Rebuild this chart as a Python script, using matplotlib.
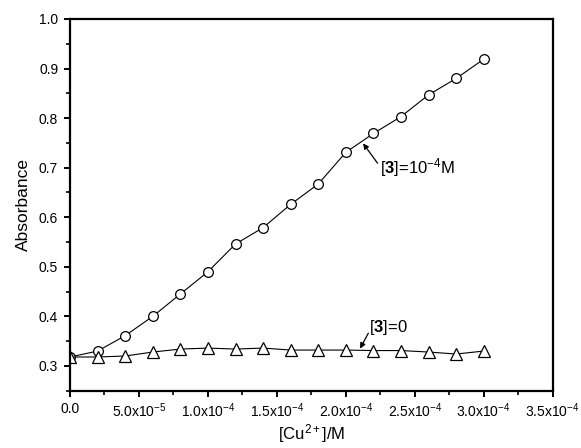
import matplotlib
matplotlib.use('Agg')
import matplotlib.pyplot as plt
from matplotlib.ticker import MultipleLocator, FixedLocator

plt.rcParams['font.family'] = ['Liberation Sans', 'DejaVu Sans']
plt.rcParams['mathtext.fontset'] = 'custom'
plt.rcParams['mathtext.rm'] = 'Liberation Sans'
plt.rcParams['mathtext.it'] = 'Liberation Sans:italic'
plt.rcParams['mathtext.bf'] = 'Liberation Sans:bold'

# data
cu_conc = [0.0, 2e-5, 4e-5, 6e-5, 8e-5, 1.0e-4, 1.2e-4, 1.4e-4, 1.6e-4,
           1.8e-4, 2.0e-4, 2.2e-4, 2.4e-4, 2.6e-4, 2.8e-4, 3.0e-4]
abs_with3 = [0.318, 0.330, 0.361, 0.400, 0.445, 0.490, 0.546, 0.579, 0.626,
             0.667, 0.731, 0.769, 0.803, 0.847, 0.880, 0.919]
abs_no3 = [0.318, 0.318, 0.320, 0.328, 0.334, 0.336, 0.334, 0.336, 0.332,
           0.332, 0.332, 0.331, 0.331, 0.328, 0.324, 0.330]

xticks = [0.0, 5e-5, 1e-4, 1.5e-4, 2e-4, 2.5e-4, 3e-4, 3.5e-4]
xticklabels = ['0.0', r'5.0x10$^{-5}$', r'1.0x10$^{-4}$', r'1.5x10$^{-4}$',
               r'2.0x10$^{-4}$', r'2.5x10$^{-4}$', r'3.0x10$^{-4}$', r'3.5x10$^{-4}$']

fig = plt.figure(figsize=(5.81, 4.48), dpi=100)
ax = fig.add_axes([0.1205, 0.1279, 0.8308, 0.8297])

ax.plot(cu_conc, abs_with3, color='k', lw=0.8, marker='o', ms=7,
        mfc='white', mec='k', mew=0.9)
ax.plot(cu_conc, abs_no3, color='k', lw=0.8, marker='^', ms=8,
        mfc='white', mec='k', mew=0.9)

ax.set_xlim(0, 3.5e-4)
ax.set_ylim(0.25, 1.0)
ax.xaxis.set_major_locator(FixedLocator(xticks))
ax.set_xticklabels(xticklabels)
ax.xaxis.set_minor_locator(MultipleLocator(2.5e-5))
ax.yaxis.set_major_locator(FixedLocator([0.3, 0.4, 0.5, 0.6, 0.7, 0.8, 0.9, 1.0]))
ax.yaxis.set_minor_locator(MultipleLocator(0.05))

for s in ax.spines.values():
    s.set_linewidth(1.6)
ax.tick_params(which='major', direction='out', length=4.5, width=1.4,
               labelsize=10, pad=4)
ax.tick_params(axis='x', which='major', pad=3.5)
ax.tick_params(which='minor', direction='out', length=3, width=1.2)
ax.tick_params(top=False, right=False)

ax.set_xlabel(r'[Cu$^{2+}$]/M', fontsize=12, labelpad=1)
ax.set_ylabel('Absorbance', fontsize=12.5, labelpad=6)

arrow = dict(arrowstyle='-|>', color='k', lw=0.9, mutation_scale=8,
             shrinkA=0, shrinkB=0)
ax.annotate('', xy=(2.125e-4, 0.749), xytext=(2.23e-4, 0.709), arrowprops=arrow)
ax.text(2.245e-4, 0.701, r'[$\mathbf{3}$]=10$^{-4}$M', fontsize=12,
        ha='left', va='center')
ax.annotate('', xy=(2.103e-4, 0.335), xytext=(2.163e-4, 0.366), arrowprops=arrow)
ax.text(2.165e-4, 0.378, r'[$\mathbf{3}$]=0', fontsize=12,
        ha='left', va='center')

fig.savefig('out.png', dpi=100)
